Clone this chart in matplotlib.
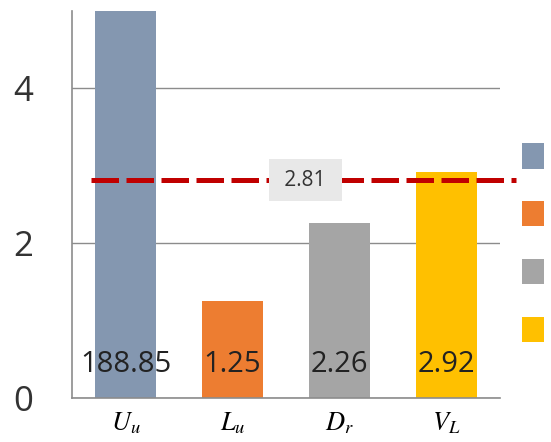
import matplotlib
matplotlib.use("Agg")
import matplotlib.pyplot as plt

plt.rcParams['font.family'] = ['Open Sans', 'DejaVu Sans']
plt.rcParams['mathtext.fontset'] = 'stix'

# values
categories = [r'$U_u$', r'$L_u$', r'$D_r$', r'$V_L$']
values = [188.85, 1.25, 2.26, 2.92]
colors = ['#8497B0', '#ED7D31', '#A5A5A5', '#FFC000']
mean_value = 2.81
yticks = [0, 2, 4]

fig = plt.figure(figsize=(5.51, 4.42), dpi=100)
ax = fig.add_axes([0.1307, 0.0995, 0.7767, 0.8767])

x = range(len(values))
bars = ax.bar(x, values, width=0.57, color=colors, zorder=2)

ax.set_xlim(-0.5, 3.5)
ax.set_ylim(0, 5)
ax.set_yticks(yticks)
ax.set_xticks(list(x))
ax.set_xticklabels(categories, fontsize=19)
ax.tick_params(axis='y', length=0, pad=28, labelsize=25, labelcolor='#333333')
ax.tick_params(axis='x', length=0, pad=9)

ax.grid(axis='y', color='#8c8c8c', linewidth=1.0, zorder=0)
for s in ['top', 'right']:
    ax.spines[s].set_visible(False)
for s in ['left', 'bottom']:
    ax.spines[s].set_color('#8c8c8c')
    ax.spines[s].set_linewidth(1.2)

# value labels near the base of each bar
for xi, v in zip(x, values):
    ax.text(xi, 0.43, f'{v:.2f}', ha='center', va='center', fontsize=21,
            color='#222222', zorder=4)

# average line with its label
ax.plot([-0.32, 3.65], [mean_value, mean_value], color='#C00000', lw=3.6,
        dashes=(5.5, 1.5), clip_on=False, zorder=3)
ax.text(1.68, mean_value, f' {mean_value:.2f} ', ha='center', va='center',
        fontsize=15, color='#333333', zorder=5,
        bbox=dict(boxstyle='square,pad=0.5', fc='#e8e8e8', ec='none'))

fig.legend(bars, ['', '', '', ''], loc='center',
           bbox_to_anchor=(533 / 551, 1 - 242.5 / 442), frameon=False,
           fontsize=16, handlelength=1.0, handleheight=1.4, handletextpad=0,
           borderpad=0, labelspacing=1.45)

fig.savefig('out.png', dpi=100)
